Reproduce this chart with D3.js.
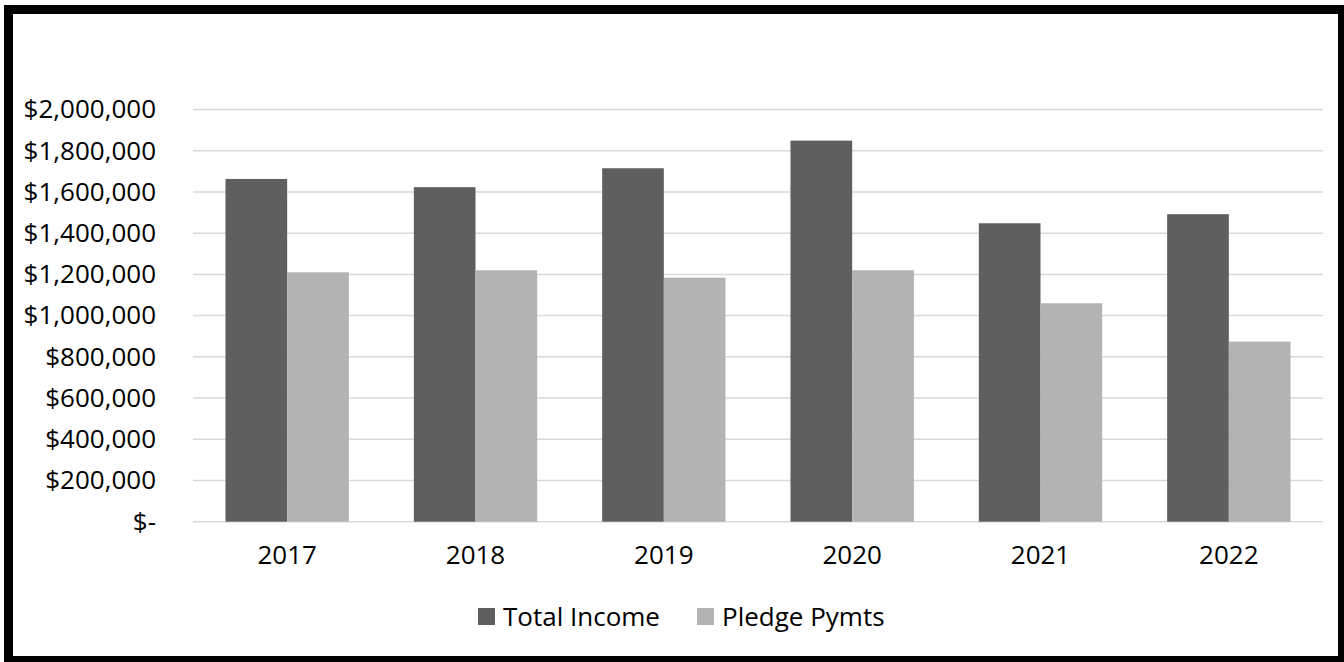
<!DOCTYPE html>
<html>
<head>
<meta charset="utf-8">
<script src="https://cdn.jsdelivr.net/npm/d3@7"></script>
<style>
  body { margin: 0; background: #fff; }
  svg { display: block; font-family: "Open Sans", sans-serif; }
</style>
</head>
<body>
<div id="chart"></div>
<script>
// data
const years = ["2017", "2018", "2019", "2020", "2021", "2022"];
const totalIncome = [1663000, 1623000, 1715000, 1849000, 1448000, 1492000];
const pledgePymts = [1210000, 1220000, 1184000, 1220000, 1060000, 874000];
const yTicks = [0, 200000, 400000, 600000, 800000, 1000000, 1200000, 1400000, 1600000, 1800000, 2000000];
const seriesNames = ["Total Income", "Pledge Pymts"];
const colors = ["#5f5f5f", "#b3b3b3"];

const width = 1344, height = 662;
const plotLeft = 193, plotRight = 1323, plotTop = 109.5, plotBottom = 521.7;
const fontSize = 26;

const svg = d3.select("#chart").append("svg")
  .attr("width", width)
  .attr("height", height);

svg.append("rect")
  .attr("width", width).attr("height", height)
  .attr("fill", "#fff");

const x = d3.scaleBand()
  .domain(years)
  .range([plotLeft, plotRight])
  .paddingInner(0.345)
  .paddingOuter(0.1725);

const x1 = d3.scaleBand()
  .domain(seriesNames)
  .range([0, x.bandwidth()]);

const y = d3.scaleLinear()
  .domain([0, 2000000])
  .range([plotBottom, plotTop]);

const fmt = d => d === 0 ? "$-" : "$" + d3.format(",")(d);

// gridlines
svg.append("g")
  .selectAll("line")
  .data(yTicks)
  .join("line")
    .attr("x1", plotLeft).attr("x2", plotRight)
    .attr("y1", d => y(d)).attr("y2", d => y(d))
    .attr("stroke", "#d9d9d9")
    .attr("stroke-width", 1.5);

// y axis labels
const yAxis = svg.append("g")
  .attr("transform", `translate(${plotLeft - 37},0)`)
  .call(d3.axisLeft(y).tickValues(yTicks).tickFormat(fmt).tickSize(0).tickPadding(0));
yAxis.select(".domain").remove();
yAxis.selectAll("text")
  .attr("font-size", fontSize)
  .attr("font-family", "Open Sans, sans-serif")
  .attr("fill", "#000");

// bars
const rows = years.map((yr, i) => ({ year: yr, values: [totalIncome[i], pledgePymts[i]] }));

svg.append("g")
  .selectAll("g")
  .data(rows)
  .join("g")
    .attr("transform", d => `translate(${x(d.year)},0)`)
  .selectAll("rect")
  .data(d => d.values.map((v, k) => ({ name: seriesNames[k], value: v, k })))
  .join("rect")
    .attr("x", d => x1(d.name))
    .attr("width", x1.bandwidth())
    .attr("y", d => y(d.value))
    .attr("height", d => y(0) - y(d.value))
    .attr("fill", d => colors[d.k]);

// x axis labels
const xAxis = svg.append("g")
  .attr("transform", `translate(0,${plotBottom + 24})`)
  .call(d3.axisBottom(x).tickSize(0).tickPadding(0));
xAxis.select(".domain").remove();
xAxis.selectAll("text")
  .attr("font-size", fontSize)
  .attr("font-family", "Open Sans, sans-serif")
  .attr("fill", "#000");

// legend
const legendX = [478, 697];
const legend = svg.append("g")
  .selectAll("g")
  .data(seriesNames)
  .join("g")
    .attr("transform", (d, i) => `translate(${legendX[i]},608)`);
legend.append("rect")
  .attr("width", 17).attr("height", 17)
  .attr("fill", (d, i) => colors[i]);
legend.append("text")
  .attr("x", 25).attr("y", 8.5)
  .attr("dy", "0.35em")
  .attr("font-size", fontSize)
  .attr("fill", "#000")
  .text(d => d);

// outer frame
svg.append("rect")
  .attr("x", 8.5).attr("y", 9.5)
  .attr("width", 1334).attr("height", 651)
  .attr("fill", "none")
  .attr("stroke", "#000")
  .attr("stroke-width", 9);
</script>
</body>
</html>
